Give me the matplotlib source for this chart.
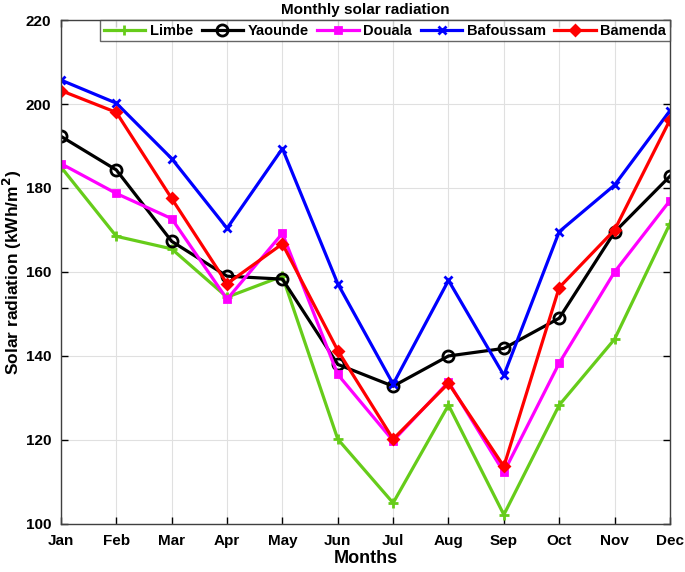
import matplotlib
matplotlib.use("Agg")
import matplotlib.pyplot as plt

plt.rcParams["font.family"] = ["Liberation Sans", "DejaVu Sans"]
plt.rcParams["font.weight"] = "bold"

months = ["Jan", "Feb", "Mar", "Apr", "May", "Jun", "Jul", "Aug", "Sep", "Oct", "Nov", "Dec"]

limbe = [185.0, 168.5, 165.5, 154.0, 159.0, 120.2, 105.0, 128.3, 102.2, 128.3, 144.0, 171.5]
yaounde = [192.3, 184.3, 167.3, 159.0, 158.3, 138.0, 132.8, 140.0, 141.8, 149.0, 169.5, 182.8]
douala = [185.8, 178.7, 172.7, 153.5, 169.2, 135.6, 119.8, 133.8, 112.3, 138.3, 160.0, 177.0]
bafoussam = [205.7, 200.2, 187.0, 170.4, 189.4, 157.2, 133.3, 158.0, 135.4, 169.6, 180.7, 198.4]
bamenda = [203.2, 198.0, 177.5, 157.2, 166.7, 141.3, 120.2, 133.5, 113.7, 156.3, 170.0, 196.2]

series = [
    ("Limbe", limbe, "#66cc1a", "+", "full"),
    ("Yaounde", yaounde, "black", "o", "none"),
    ("Douala", douala, "#ff00ff", "s", "full"),
    ("Bafoussam", bafoussam, "#0000ff", "x", "full"),
    ("Bamenda", bamenda, "#ff0000", "D", "full"),
]

fig = plt.figure(figsize=(6.85, 5.72), dpi=100)
ax = fig.add_axes([0.089, 0.084, 0.889, 0.881])

x = list(range(len(months)))
for name, vals, col, mk, fill in series:
    ms = {"+": 7, "x": 6, "o": 8, "s": 5, "D": 5}[mk]
    ax.plot(x, vals, color=col, lw=2.3, marker=mk, markersize=ms,
            fillstyle=fill, markeredgewidth=2.0, markeredgecolor=col, label=name)

ax.set_xlim(0, 11)
ax.set_ylim(100, 220)
ax.set_xticks(x)
ax.set_xticklabels(months)
ax.set_yticks(range(100, 221, 20))
ax.tick_params(direction="in", top=True, right=True, labelsize=11, length=5, width=1)
ax.tick_params(axis="x", pad=7)
ax.tick_params(axis="y", pad=7)
ax.grid(True, color="#e0e0e0", lw=0.8)
for sp in ax.spines.values():
    sp.set_color("#404040")
    sp.set_linewidth(1.0)

ax.set_xlabel("Months", fontsize=13, fontweight="bold", labelpad=2)
ax.set_ylabel("Solar radiation (kWh/m$^{\\mathbf{2}}$)", fontsize=12.5, fontweight="bold", labelpad=1)
ax.set_title("Monthly solar radiation", fontsize=11, fontweight="bold", pad=4)

leg = ax.legend(loc="upper right", bbox_to_anchor=(1.0, 1.0),
                ncol=5, fontsize=10.5, frameon=True, fancybox=False, edgecolor="#404040",
                handlelength=2.85, columnspacing=0.6, handletextpad=0.3, borderpad=0.25,
                borderaxespad=0.0)
leg.get_frame().set_linewidth(1.0)

fig.savefig("out.png", dpi=100)
